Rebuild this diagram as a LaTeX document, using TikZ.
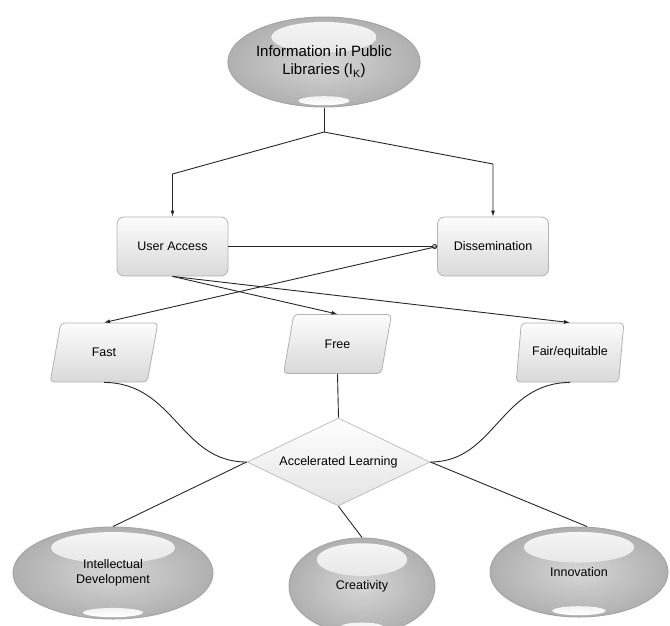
\documentclass[tikz,border=0pt]{standalone}
\usepackage{fontspec}
\setmainfont{Liberation Sans}
\usetikzlibrary{shapes.geometric,arrows.meta}
\tikzset{
  ball/.style 2 args={ellipse, draw=gray!70, line width=1pt,
    inner color=gray!32, outer color=gray!62,
    minimum width={2*#1*1pt}, minimum height={2*#2*1pt}, inner sep=0pt,
    align=center, font=\fontsize{12.5}{15}\selectfont,
    path picture={
      \shade[top color=gray!6, bottom color=gray!38]
        ([yshift={0.55*#2*1pt}]path picture bounding box.center)
        ellipse [x radius={0.62*#1}, y radius={0.34*#2}];
      \shade[top color=gray!10, bottom color=white]
        ([yshift={-0.86*#2*1pt}]path picture bounding box.center)
        ellipse [x radius={0.3*#1}, y radius={0.1*#2}];
    }},
  boxnode/.style={rectangle, rounded corners=7pt, draw=gray!60, line width=0.8pt,
    top color=gray!2, bottom color=gray!30, minimum width=111pt, minimum height=59pt,
    inner sep=0pt, font=\fontsize{12.5}{14}\selectfont},
  para/.style={trapezium, trapezium left angle=71, trapezium right angle=109,
    trapezium stretches=true, minimum width=108pt, minimum height=59pt,
    rounded corners=4pt, draw=gray!60, line width=0.8pt, inner sep=0pt,
    top color=gray!2, bottom color=gray!30, font=\fontsize{12.5}{14}\selectfont},
  diam/.style={diamond, aspect=2.08, minimum width=183pt, minimum height=88pt,
    inner sep=0pt, draw=gray!50, line width=0.8pt, top color=white, bottom color=gray!22,
    font=\fontsize{12.5}{14}\selectfont},
  conn/.style={line width=0.9pt, black!85},
  arr/.style={conn, -{Latex[length=6pt,width=4pt]}},
}
\begin{document}
\begin{tikzpicture}[x=1pt,y=-1pt]
\useasboundingbox (0,0) rectangle (670,625);

% nodes
\node[ball={85}{45}, font=\fontsize{15}{18}\selectfont] (top) at (324,62)
  {Information in Public\\Libraries (I\textsubscript{K})};
\node[boxnode] (ua) at (172.5,246.5) {User Access};
\node[boxnode] (dis) at (493,246.5) {Dissemination};
\node[para] (fast) at (104,352.5) {Fast};
\node[para] (free) at (337.5,344) {Free};
\node[para] (fair) at (570,352.5) {Fair/equitable};
\node[diam] (al) at (338.5,462) {Accelerated Learning};
\node[ball={100}{46}] (id) at (113,573) {Intellectual\\Development};
\node[ball={73}{48}] (cr) at (362,586) {Creativity};
\node[ball={89}{45}] (inn) at (579,572) {Innovation};

% connectors top
\coordinate (split) at (324,132);
\coordinate (lc) at (172.5,174);
\coordinate (rc) at (493,164);
\draw[conn] (top.south) -- (split);
\draw[arr] (split) -- (lc) -- (ua.north);
\draw[arr] (split) -- (rc) -- (dis.north);

% middle
\draw[conn, -{Circle[open,length=5pt,width=5pt]}] (ua.east) -- (dis.west);
\draw[arr] (dis.west) -- (fast.north);
\draw[arr] (ua.south) -- (free.north);
\draw[arr] (ua.south) -- (fair.north);

% to diamond
\draw[conn] (fast.south) .. controls (175,383) and (180,462) .. (al.west);
\draw[conn] (fair.south) .. controls (500,383) and (495,462) .. (al.east);
\draw[conn] (free.south) -- (al.north);

% outcomes
\draw[conn] (al.west) -- (id.north);
\draw[conn] (al.south) -- (cr.north);
\draw[conn] (al.east) -- ([xshift=8pt]inn.north);
\end{tikzpicture}
\end{document}
